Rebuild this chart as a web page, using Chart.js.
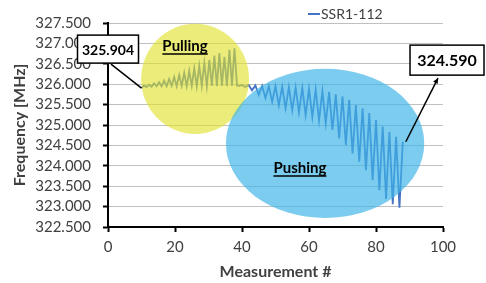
<!DOCTYPE html>
<html>
<head>
<meta charset="utf-8">
<script src="https://cdn.jsdelivr.net/npm/chart.js@4"></script>
<style>
  html, body { margin: 0; padding: 0; background: #fff; }
  #wrap { width: 486px; height: 283px; }
</style>
</head>
<body>
<div id="wrap"><canvas id="meuGrafico"></canvas></div>
<script>
const serie = "SSR1-112";

const medicoes = [
  10, 10.75, 11.5, 12.25, 13, 13.75, 14.5, 15.25, 16, 16.75,
  17.5, 18.25, 19, 19.75, 20.5, 21.25, 22, 22.75, 23.5, 24.25,
  25, 25.75, 26.5, 27.25, 28, 28.75, 29.5, 30.25, 31, 31.75,
  32.5, 33.25, 34, 34.75, 35.5, 36.25, 37, 37.75, 38.5,
  39, 40, 41, 42, 43, 44, 45, 46, 47, 48, 49, 50, 51, 52, 53,
  54, 55, 56, 57, 58, 59, 60, 61, 62, 63, 64, 65, 66, 67, 68,
  69, 70, 71, 72, 73, 74, 75, 76, 77, 78, 79, 80, 81, 82, 83,
  84, 85, 86, 87, 88
];

const frequencias = [
  325.904, 325.97, 325.93, 325.99, 325.94, 326.02, 325.95, 326.05, 325.95, 326.09,
  325.95, 326.13, 325.96, 326.18, 325.95, 326.23, 325.96, 326.28, 325.95, 326.33,
  325.96, 326.39, 325.95, 326.45, 325.96, 326.52, 325.95, 326.60, 325.96, 326.70,
  325.95, 326.76, 325.96, 326.67, 325.95, 326.84, 325.96, 326.88, 325.97,
  325.96, 325.98, 325.93, 325.98, 325.85, 325.97, 325.74, 325.96, 325.66, 325.95,
  325.57, 325.95, 325.48, 325.94, 325.41, 325.93, 325.36, 325.92, 325.31, 325.91,
  325.24, 325.89, 325.19, 325.87, 325.11, 325.83, 325.04, 325.81, 324.88, 325.75,
  324.67, 325.70, 324.51, 325.62, 324.30, 325.49, 324.10, 325.41, 323.89, 325.29,
  323.65, 325.12, 323.40, 324.96, 323.19, 324.83, 323.06, 324.71, 322.97, 324.59
];

const ticksY = [322.5, 323.0, 323.5, 324.0, 324.5, 325.0, 325.5, 326.0, 326.5, 327.0, 327.5];
const ticksX = [0, 20, 40, 60, 80, 100];

const rotuloInicio = "325.904";
const rotuloFim = "324.590";

// regioes destacadas (em unidades do grafico)
const regioes = [
  { nome: "Pulling", cx: 26, cy: 326.13, rx: 16.1, ry: 1.35, cor: "rgba(225, 225, 40, 0.62)", tx: 23, ty: 326.94 },
  { nome: "Pushing", cx: 64.8, cy: 324.55, rx: 29.6, ry: 1.83, cor: "rgba(60, 180, 230, 0.68)", tx: 57.3, ty: 323.95 },
];

const fonte = "Lato";
const corLinha = "#4472c4";

function desenharTexto(ctx, texto, x, y, tamanho, sublinhar) {
  ctx.save();
  ctx.font = "bold " + tamanho + "px " + fonte;
  ctx.fillStyle = "#000";
  ctx.textAlign = "center";
  ctx.textBaseline = "middle";
  ctx.fillText(texto, x, y);
  if (sublinhar) {
    const w = ctx.measureText(texto).width;
    ctx.strokeStyle = "#000";
    ctx.lineWidth = 1.5;
    ctx.beginPath();
    ctx.moveTo(x - w / 2, y + tamanho * 0.55);
    ctx.lineTo(x + w / 2, y + tamanho * 0.55);
    ctx.stroke();
  }
  ctx.restore();
}

function caixa(ctx, texto, cx, cy, w, h, tamanho) {
  ctx.save();
  ctx.fillStyle = "#fff";
  ctx.strokeStyle = "#000";
  ctx.lineWidth = 1.5;
  ctx.fillRect(cx - w / 2, cy - h / 2, w, h);
  ctx.strokeRect(cx - w / 2, cy - h / 2, w, h);
  ctx.restore();
  desenharTexto(ctx, texto, cx, cy + 1, tamanho, false);
}

const anotacoes = {
  id: "anotacoes",
  afterDatasetsDraw(chart) {
    const { ctx, scales: { x, y } } = chart;
    regioes.forEach((r) => {
      const cx = x.getPixelForValue(r.cx);
      const cy = y.getPixelForValue(r.cy);
      const rx = Math.abs(x.getPixelForValue(r.cx + r.rx) - cx);
      const ry = Math.abs(y.getPixelForValue(r.cy + r.ry) - cy);
      ctx.save();
      ctx.fillStyle = r.cor;
      ctx.beginPath();
      ctx.ellipse(cx, cy, rx, ry, 0, 0, Math.PI * 2);
      ctx.fill();
      ctx.restore();
    });
    regioes.forEach((r) => {
      desenharTexto(ctx, r.nome, x.getPixelForValue(r.tx), y.getPixelForValue(r.ty), 15, true);
    });
  },
  afterDraw(chart) {
    const { ctx, scales: { x, y } } = chart;
    const n = medicoes.length - 1;
    const p0x = x.getPixelForValue(medicoes[0]);
    const p0y = y.getPixelForValue(frequencias[0]);
    const p1x = x.getPixelForValue(medicoes[n]);
    const p1y = y.getPixelForValue(frequencias[n]);

    // caixa do inicio
    const b1x = x.getPixelForValue(0);
    const b1y = y.getPixelForValue(326.86);
    ctx.save();
    ctx.strokeStyle = "#000";
    ctx.lineWidth = 1.5;
    ctx.beginPath();
    ctx.moveTo(b1x + 3, b1y + 15);
    ctx.lineTo(p0x, p0y);
    ctx.stroke();
    ctx.restore();
    caixa(ctx, rotuloInicio, b1x, b1y, 61, 28, 14);

    // caixa do fim, com seta
    const b2x = x.getPixelForValue(101.2);
    const b2y = y.getPixelForValue(326.59);
    const ax = b2x - 9;
    const ay = b2y + 18;
    const ang = Math.atan2(ay - p1y, ax - p1x);
    ctx.save();
    ctx.strokeStyle = "#000";
    ctx.fillStyle = "#000";
    ctx.lineWidth = 1.5;
    ctx.beginPath();
    ctx.moveTo(p1x + 3, p1y);
    ctx.lineTo(ax, ay);
    ctx.stroke();
    ctx.beginPath();
    ctx.moveTo(ax, ay);
    ctx.lineTo(ax - 6 * Math.cos(ang - 0.45), ay - 6 * Math.sin(ang - 0.45));
    ctx.lineTo(ax - 6 * Math.cos(ang + 0.45), ay - 6 * Math.sin(ang + 0.45));
    ctx.closePath();
    ctx.fill();
    ctx.restore();
    caixa(ctx, rotuloFim, b2x, b2y, 74, 30, 16);

    // legenda
    ctx.save();
    ctx.strokeStyle = corLinha;
    ctx.lineWidth = 2;
    ctx.beginPath();
    ctx.moveTo(308, 14);
    ctx.lineTo(320, 14);
    ctx.stroke();
    ctx.font = "14px " + fonte;
    ctx.fillStyle = "#404040";
    ctx.textBaseline = "middle";
    ctx.fillText(serie, 321, 14);
    ctx.restore();
  },
};

function criarGrafico() {
  const ctx = document.getElementById("meuGrafico");
  const pontos = medicoes.map((m, i) => ({ x: m, y: frequencias[i] }));

  new Chart(ctx, {
    type: "line",
    data: {
      datasets: [
        {
          label: serie,
          data: pontos,
          borderColor: corLinha,
          borderWidth: 1.8,
          pointRadius: 0,
          tension: 0,
          fill: false,
        },
      ],
    },
    options: {
      responsive: true,
      maintainAspectRatio: false,
      animation: false,
      layout: { padding: { top: 23, right: 43, left: 0, bottom: 0 } },
      plugins: { legend: { display: false }, tooltip: { enabled: false } },
      scales: {
        x: {
          type: "linear",
          min: 0,
          max: 100,
          afterFit: (s) => { s.height = 56; },
          afterBuildTicks: (s) => { s.ticks = ticksX.map((v) => ({ value: v })); },
          ticks: { autoSkip: false, maxRotation: 0, color: "#404040", font: { family: fonte, size: 15 }, padding: 6 },
          grid: { drawOnChartArea: false, drawTicks: true, tickLength: 5, tickColor: "#000", tickWidth: 2 },
          border: { color: "#000", width: 2 },
          title: {
            display: true,
            text: "Measurement #",
            color: "#404040",
            font: { family: fonte, size: 16, weight: "bold" },
            padding: { top: 0, bottom: 2 },
          },
        },
        y: {
          min: 322.5,
          max: 327.5,
          afterFit: (s) => { s.width = 108; },
          afterBuildTicks: (s) => { s.ticks = ticksY.map((v) => ({ value: v })); },
          ticks: {
            autoSkip: false,
            color: "#404040",
            font: { family: fonte, size: 15 },
            padding: 12,
            callback: (v) => Number(v).toFixed(3),
          },
          grid: { color: "#c0c0c0", lineWidth: 1, drawTicks: true, tickLength: 5, tickColor: "#000", tickWidth: 2 },
          border: { color: "#000", width: 2 },
          title: {
            display: true,
            text: "Frequency [MHz]",
            color: "#404040",
            font: { family: fonte, size: 16, weight: "bold" },
            padding: { top: 10, bottom: 0 },
          },
        },
      },
    },
    plugins: [anotacoes],
  });
}

criarGrafico();
</script>
</body>
</html>
